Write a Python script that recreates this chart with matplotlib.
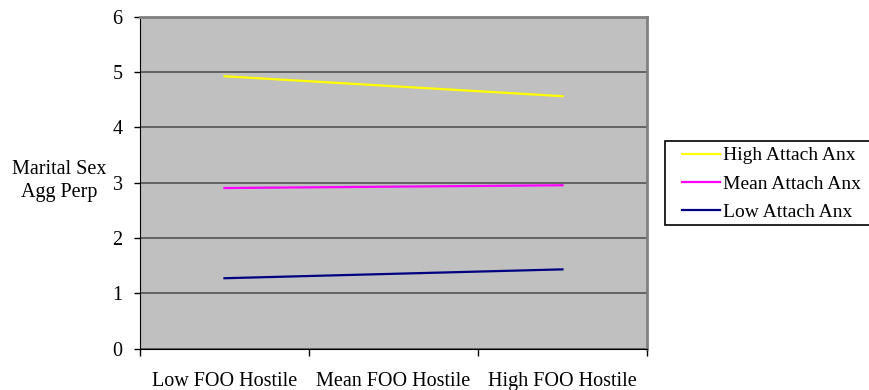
import matplotlib
matplotlib.use("Agg")
import matplotlib.pyplot as plt
from matplotlib.patches import Rectangle

plt.rcParams["font.family"] = ["Liberation Serif", "DejaVu Serif"]

categories = ["Low FOO Hostile", "Mean FOO Hostile", "High FOO Hostile"]
series_names = ["High Attach Anx", "Mean Attach Anx", "Low Attach Anx"]
high_anx = [4.92, 4.56]
mean_anx = [2.90, 2.95]
low_anx = [1.27, 1.43]
colors = ["#FFFF00", "#FF00FF", "#000080"]

W, H = 869, 390
fig = plt.figure(figsize=(W / 100, H / 100), dpi=100)
ax = fig.add_axes([140 / W, 41.5 / H, 507 / W, 332 / H])
ax.set_facecolor("#C0C0C0")

# lines run from the first to the last category centre
xs = [0.5, 2.5]
for vals, name, c in zip([high_anx, mean_anx, low_anx], series_names, colors):
    ax.plot(xs, vals, color=c, lw=1.6, label=name, zorder=3)

ax.set_xlim(0, 3)
ax.set_ylim(0, 6)
ax.set_yticks(range(7))
ax.set_xticks([0, 1, 2, 3])
ax.set_xticklabels([])
ax.set_xticks([0.5, 1.5, 2.5], minor=True)
ax.set_xticklabels(categories, minor=True, fontsize=14.5)
ax.tick_params(axis="x", which="minor", length=0, pad=17)
ax.tick_params(axis="x", which="major", length=5, width=1, direction="out", color="black")
ax.tick_params(axis="y", length=4.5, width=1, direction="out", labelsize=14.5, pad=8)
ax.yaxis.grid(True, color="#4a4a4a", lw=1.1)
ax.set_axisbelow(True)

for s in ["top", "right"]:
    ax.spines[s].set_color("#808080")
    ax.spines[s].set_linewidth(2)
ax.spines["left"].set_color("black")
ax.spines["bottom"].set_color("black")

fig.text(59 / W, 1 - 181 / H, "Marital Sex\nAgg Perp", ha="center", va="center",
         fontsize=14.5, linespacing=1.3)

# legend frame runs past the right edge, as in the reference
fig.patches.append(Rectangle((665 / W, 1 - 225 / H), 220 / W, 84 / H,
                             transform=fig.transFigure, facecolor="white",
                             edgecolor="black", lw=1.2, zorder=1))
leg = fig.legend(loc="center left", bbox_to_anchor=(682 / W, 1 - 184 / H), fontsize=14,
                 frameon=False, handlelength=1.95, handletextpad=0.15, borderpad=0,
                 labelspacing=0.55, borderaxespad=0)
leg.set_zorder(2)

fig.savefig("out.png", dpi=100)
